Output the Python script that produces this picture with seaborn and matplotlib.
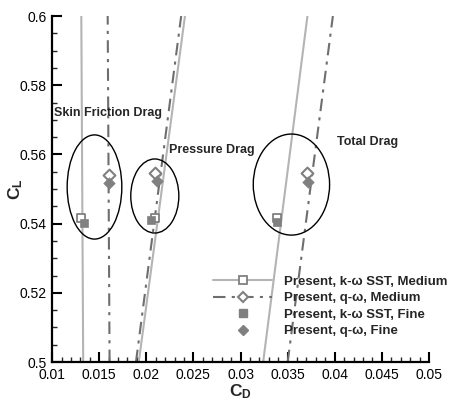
import matplotlib
matplotlib.use("Agg")
import matplotlib.pyplot as plt
from matplotlib.patches import Ellipse
from matplotlib.lines import Line2D
from matplotlib.ticker import MultipleLocator, FixedLocator, FixedFormatter
import pandas as pd
import seaborn as sns

# lift lines: C_D at C_L = 0.5 and 0.6
line_cl = [0.5, 0.6]
sst_friction_cd = [0.0133, 0.0131]
qw_friction_cd = [0.0161, 0.0159]
sst_pressure_cd = [0.0192, 0.0241]
qw_pressure_cd = [0.0189, 0.0237]
sst_total_cd = [0.0324, 0.0371]
qw_total_cd = [0.0350, 0.0398]

# computed points (friction, pressure, total)
sst_medium_cd = [0.0131, 0.0209, 0.0339]
sst_medium_cl = [0.5417, 0.5417, 0.5417]
sst_fine_cd = [0.0134, 0.0205, 0.0339]
sst_fine_cl = [0.5403, 0.5410, 0.5405]
qw_medium_cd = [0.0160, 0.0209, 0.0371]
qw_medium_cl = [0.5542, 0.5546, 0.5546]
qw_fine_cd = [0.0160, 0.0211, 0.0372]
qw_fine_cl = [0.5517, 0.5523, 0.5520]

# circled groups and their labels
groups = ["Skin Friction Drag", "Pressure Drag", "Total Drag"]
ellipse_cd = [0.0145, 0.0209, 0.0354]
ellipse_cl = [0.5506, 0.5480, 0.5513]
ellipse_w = [0.0058, 0.0051, 0.0081]
ellipse_h = [0.0301, 0.0214, 0.0292]
label_cd = [0.0102, 0.0224, 0.0402]
label_cl = [0.5720, 0.5613, 0.5636]

x_ticks = [0.01, 0.015, 0.02, 0.025, 0.03, 0.035, 0.04, 0.045, 0.05]
x_tick_labels = ["0.01", "0.015", "0.02", "0.025", "0.03", "0.035", "0.04", "0.045", "0.05"]
y_ticks = [0.5, 0.52, 0.54, 0.56, 0.58, 0.6]
y_tick_labels = ["0.5", "0.52", "0.54", "0.56", "0.58", "0.6"]

legend_labels = ["Present, k-\u03c9 SST, Medium", "Present, q-\u03c9, Medium",
                 "Present, k-\u03c9 SST, Fine", "Present, q-\u03c9, Fine"]

sns.set_style("ticks")
plt.rcParams["font.family"] = ["Liberation Sans", "DejaVu Sans"]
plt.rcParams["mathtext.fontset"] = "custom"
plt.rcParams["mathtext.bf"] = "Liberation Sans:weight=bold"
plt.rcParams["mathtext.rm"] = "Liberation Sans"

light = "#b4b4b4"
dark = "#6e6e6e"
mark = "#808080"
dashdot = (6, 3, 1.5, 3)

# long table of the lift lines
rows = []
for model, series in [("sst", [sst_friction_cd, sst_pressure_cd, sst_total_cd]),
                      ("qw", [qw_friction_cd, qw_pressure_cd, qw_total_cd])]:
    for g, cds in zip(groups, series):
        for cd, cl in zip(cds, line_cl):
            rows.append({"cd": cd, "cl": cl, "model": model, "group": g})
lines = pd.DataFrame(rows)

fig = plt.figure(figsize=(4.53, 4.01), dpi=100)
ax = fig.add_axes([0.115, 0.097, 0.832, 0.863])

sns.lineplot(data=lines, x="cd", y="cl", hue="model", style="model", units="group",
             estimator=None, sort=False, palette={"sst": light, "qw": dark},
             dashes={"sst": "", "qw": dashdot}, linewidth=1.5, legend=False, ax=ax)

sns.scatterplot(x=sst_medium_cd, y=sst_medium_cl, marker="s", s=40, facecolor="white",
                edgecolor=mark, linewidth=1.3, ax=ax, zorder=3)
sns.scatterplot(x=qw_medium_cd, y=qw_medium_cl, marker="D", s=36, facecolor="white",
                edgecolor=mark, linewidth=1.5, ax=ax, zorder=3)
sns.scatterplot(x=sst_fine_cd, y=sst_fine_cl, marker="s", s=36, color=mark,
                edgecolor=mark, ax=ax, zorder=4)
sns.scatterplot(x=qw_fine_cd, y=qw_fine_cl, marker="D", s=34, color=mark,
                edgecolor=mark, ax=ax, zorder=4)

for i, g in enumerate(groups):
    ax.add_patch(Ellipse((ellipse_cd[i], ellipse_cl[i]), ellipse_w[i], ellipse_h[i],
                         fill=False, edgecolor="black", linewidth=1.0, zorder=5))
    ax.text(label_cd[i], label_cl[i], g, fontsize=9, fontweight="bold",
            ha="left", va="center")

ax.set_xlim(0.01, 0.05)
ax.set_ylim(0.5, 0.6)
ax.xaxis.set_major_locator(FixedLocator(x_ticks))
ax.xaxis.set_major_formatter(FixedFormatter(x_tick_labels))
ax.yaxis.set_major_locator(FixedLocator(y_ticks))
ax.yaxis.set_major_formatter(FixedFormatter(y_tick_labels))
ax.xaxis.set_minor_locator(MultipleLocator(0.001))
ax.yaxis.set_minor_locator(MultipleLocator(0.005))
ax.tick_params(which="major", direction="in", length=7, width=1.5, labelsize=10, pad=4,
               colors="black")
ax.tick_params(which="minor", direction="in", length=3.5, width=1.0)
sns.despine(ax=ax)
for side in ["left", "bottom"]:
    ax.spines[side].set_linewidth(1.6)
    ax.spines[side].set_color("black")

ax.set_xlabel(r"$\mathbf{C_D}$", fontsize=12.5, va="center")
ax.set_ylabel(r"$\mathbf{C_L}$", fontsize=12.5, va="center")
ax.xaxis.set_label_coords(0.5, -0.084)
ax.yaxis.set_label_coords(-0.097, 0.5)

handles = [
    Line2D([], [], color=light, linewidth=1.5, marker="s", markersize=6,
           markerfacecolor="white", markeredgecolor=mark, markeredgewidth=1.3),
    Line2D([], [], color=dark, linewidth=1.5, dashes=dashdot, marker="D", markersize=5.5,
           markerfacecolor="white", markeredgecolor=mark, markeredgewidth=1.5),
    Line2D([], [], linestyle="none", marker="s", markersize=6, color=mark),
    Line2D([], [], linestyle="none", marker="D", markersize=5.5, color=mark),
]
leg = ax.legend(handles, legend_labels, loc="upper left", bbox_to_anchor=(0.427, 0.25),
                borderaxespad=0, borderpad=0, frameon=False, handlelength=4.5,
                handletextpad=0.9, labelspacing=0.32,
                prop={"weight": "bold", "size": 9.5})

fig.savefig("out.png", dpi=100)
